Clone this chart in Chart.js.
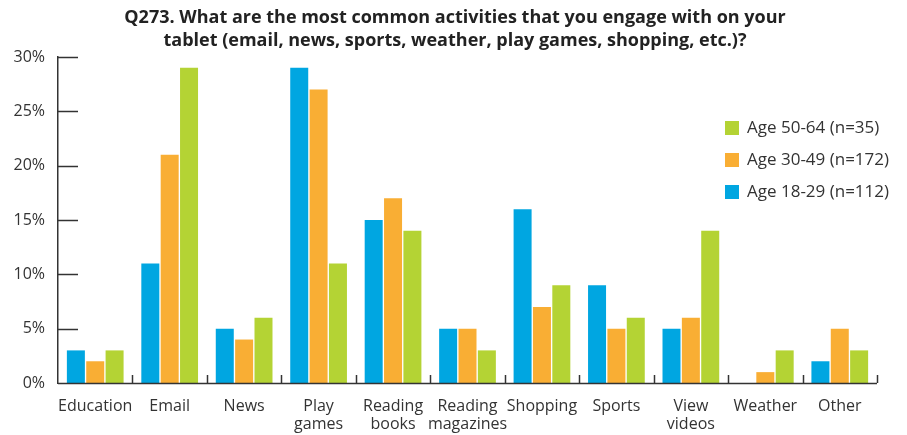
<!DOCTYPE html>
<html>
<head>
<meta charset="utf-8">
<script src="https://cdn.jsdelivr.net/npm/chart.js@4/dist/chart.umd.min.js"></script>
<style>
  html, body { margin: 0; padding: 0; background: #fff; }
  #wrap { width: 907px; height: 435px; position: relative; }
</style>
</head>
<body>
<div id="wrap"><canvas id="chart"></canvas></div>
<script>
const categories = ["Education", "Email", "News", ["Play", "games"], ["Reading", "books"],
    ["Reading", "magazines"], "Shopping", "Sports", ["View", "videos"], "Weather", "Other"];
const age18to29 = [3, 11, 5, 29, 15, 5, 16, 9, 5, 0, 2];
const age30to49 = [2, 21, 4, 27, 17, 5, 7, 5, 6, 1, 5];
const age50to64 = [3, 29, 6, 11, 14, 3, 9, 6, 14, 3, 3];
const seriesNames = ["Age 18-29 (n=112)", "Age 30-49 (n=172)", "Age 50-64 (n=35)"];
const colors = ["#00a6e1", "#f9ae34", "#b4d334"];
const yTicks = [0, 5, 10, 15, 20, 25, 30];
const titleLines = ["Q273. What are the most common activities that you engage with on your",
    "tablet (email, news, sports, weather, play games, shopping, etc.)?"];

const FONT = "'Open Sans', 'Noto Sans', sans-serif";
const INK = "#333333";

// y ticks point inward, x ticks mark category borders
const axisMarks = {
    id: "axisMarks",
    afterDraw(chart) {
        const ctx = chart.ctx;
        const y = chart.scales.y;
        const left = chart.chartArea.left, bottom = chart.chartArea.bottom;
        ctx.save();
        ctx.strokeStyle = INK;
        ctx.lineWidth = 1.5;
        yTicks.forEach(v => {
            if (v === 0) return;
            const py = Math.round(y.getPixelForValue(v)) + 0.5;
            ctx.beginPath();
            ctx.moveTo(left, py);
            ctx.lineTo(left + 20, py);
            ctx.stroke();
        });
        const step = (chart.chartArea.right - left) / categories.length;
        for (let i = 1; i <= categories.length; i++) {
            const px = Math.round(left + i * step) + 0.5;
            ctx.beginPath();
            ctx.moveTo(px, bottom);
            ctx.lineTo(px, bottom - 8);
            ctx.stroke();
        }
        ctx.beginPath();
        ctx.moveTo(left, bottom + 0.5);
        ctx.lineTo(chart.chartArea.right, bottom + 0.5);
        ctx.stroke();
        ctx.restore();
    }
};

// title + legend drawn by hand so they sit where the original has them
const extras = {
    id: "extras",
    afterDraw(chart) {
        const ctx = chart.ctx;
        ctx.save();
        ctx.fillStyle = "#222";
        ctx.font = "bold 18px " + FONT;
        ctx.textAlign = "center";
        ctx.textBaseline = "middle";
        ctx.fillText(titleLines[0], 455, 18);
        ctx.fillText(titleLines[1], 455, 41);

        ctx.textAlign = "left";
        ctx.font = "17px " + FONT;
        // reversed order: oldest on top
        for (let i = 0; i < 3; i++) {
            const idx = 2 - i;
            const cy = 128 + i * 32;
            ctx.fillStyle = colors[idx];
            ctx.fillRect(725, cy - 7, 14, 14);
            ctx.fillStyle = INK;
            ctx.fillText(seriesNames[idx], 747, cy);
        }
        ctx.restore();
    }
};

new Chart(document.getElementById("chart"), {
    type: "bar",
    data: {
        labels: categories,
        datasets: [
            { label: seriesNames[0], data: age18to29, backgroundColor: colors[0] },
            { label: seriesNames[1], data: age30to49, backgroundColor: colors[1] },
            { label: seriesNames[2], data: age50to64, backgroundColor: colors[2] }
        ]
    },
    options: {
        responsive: true,
        maintainAspectRatio: false,
        animation: false,
        layout: { padding: { left: 0, right: 30, top: 57, bottom: 0 } },
        datasets: { bar: { categoryPercentage: 0.78, barPercentage: 0.93 } },
        plugins: {
            legend: { display: false },
            tooltip: { enabled: false },
            title: { display: false }
        },
        scales: {
            x: {
                grid: { display: false },
                border: { display: false },
                ticks: {
                    color: INK,
                    font: { family: FONT, size: 16, lineHeight: 1.15 },
                    maxRotation: 0,
                    autoSkip: false,
                    padding: 6
                },
                afterFit(scale) { scale.height = 52; }
            },
            y: {
                min: 0,
                max: 30,
                grid: { display: false },
                border: { display: true, color: INK, width: 1.5 },
                ticks: {
                    stepSize: 5,
                    color: INK,
                    font: { family: FONT, size: 16 },
                    padding: 5,
                    callback: v => v + "%"
                },
                afterFit(scale) { scale.width = 58; }
            }
        }
    },
    plugins: [axisMarks, extras]
});
</script>
</body>
</html>
